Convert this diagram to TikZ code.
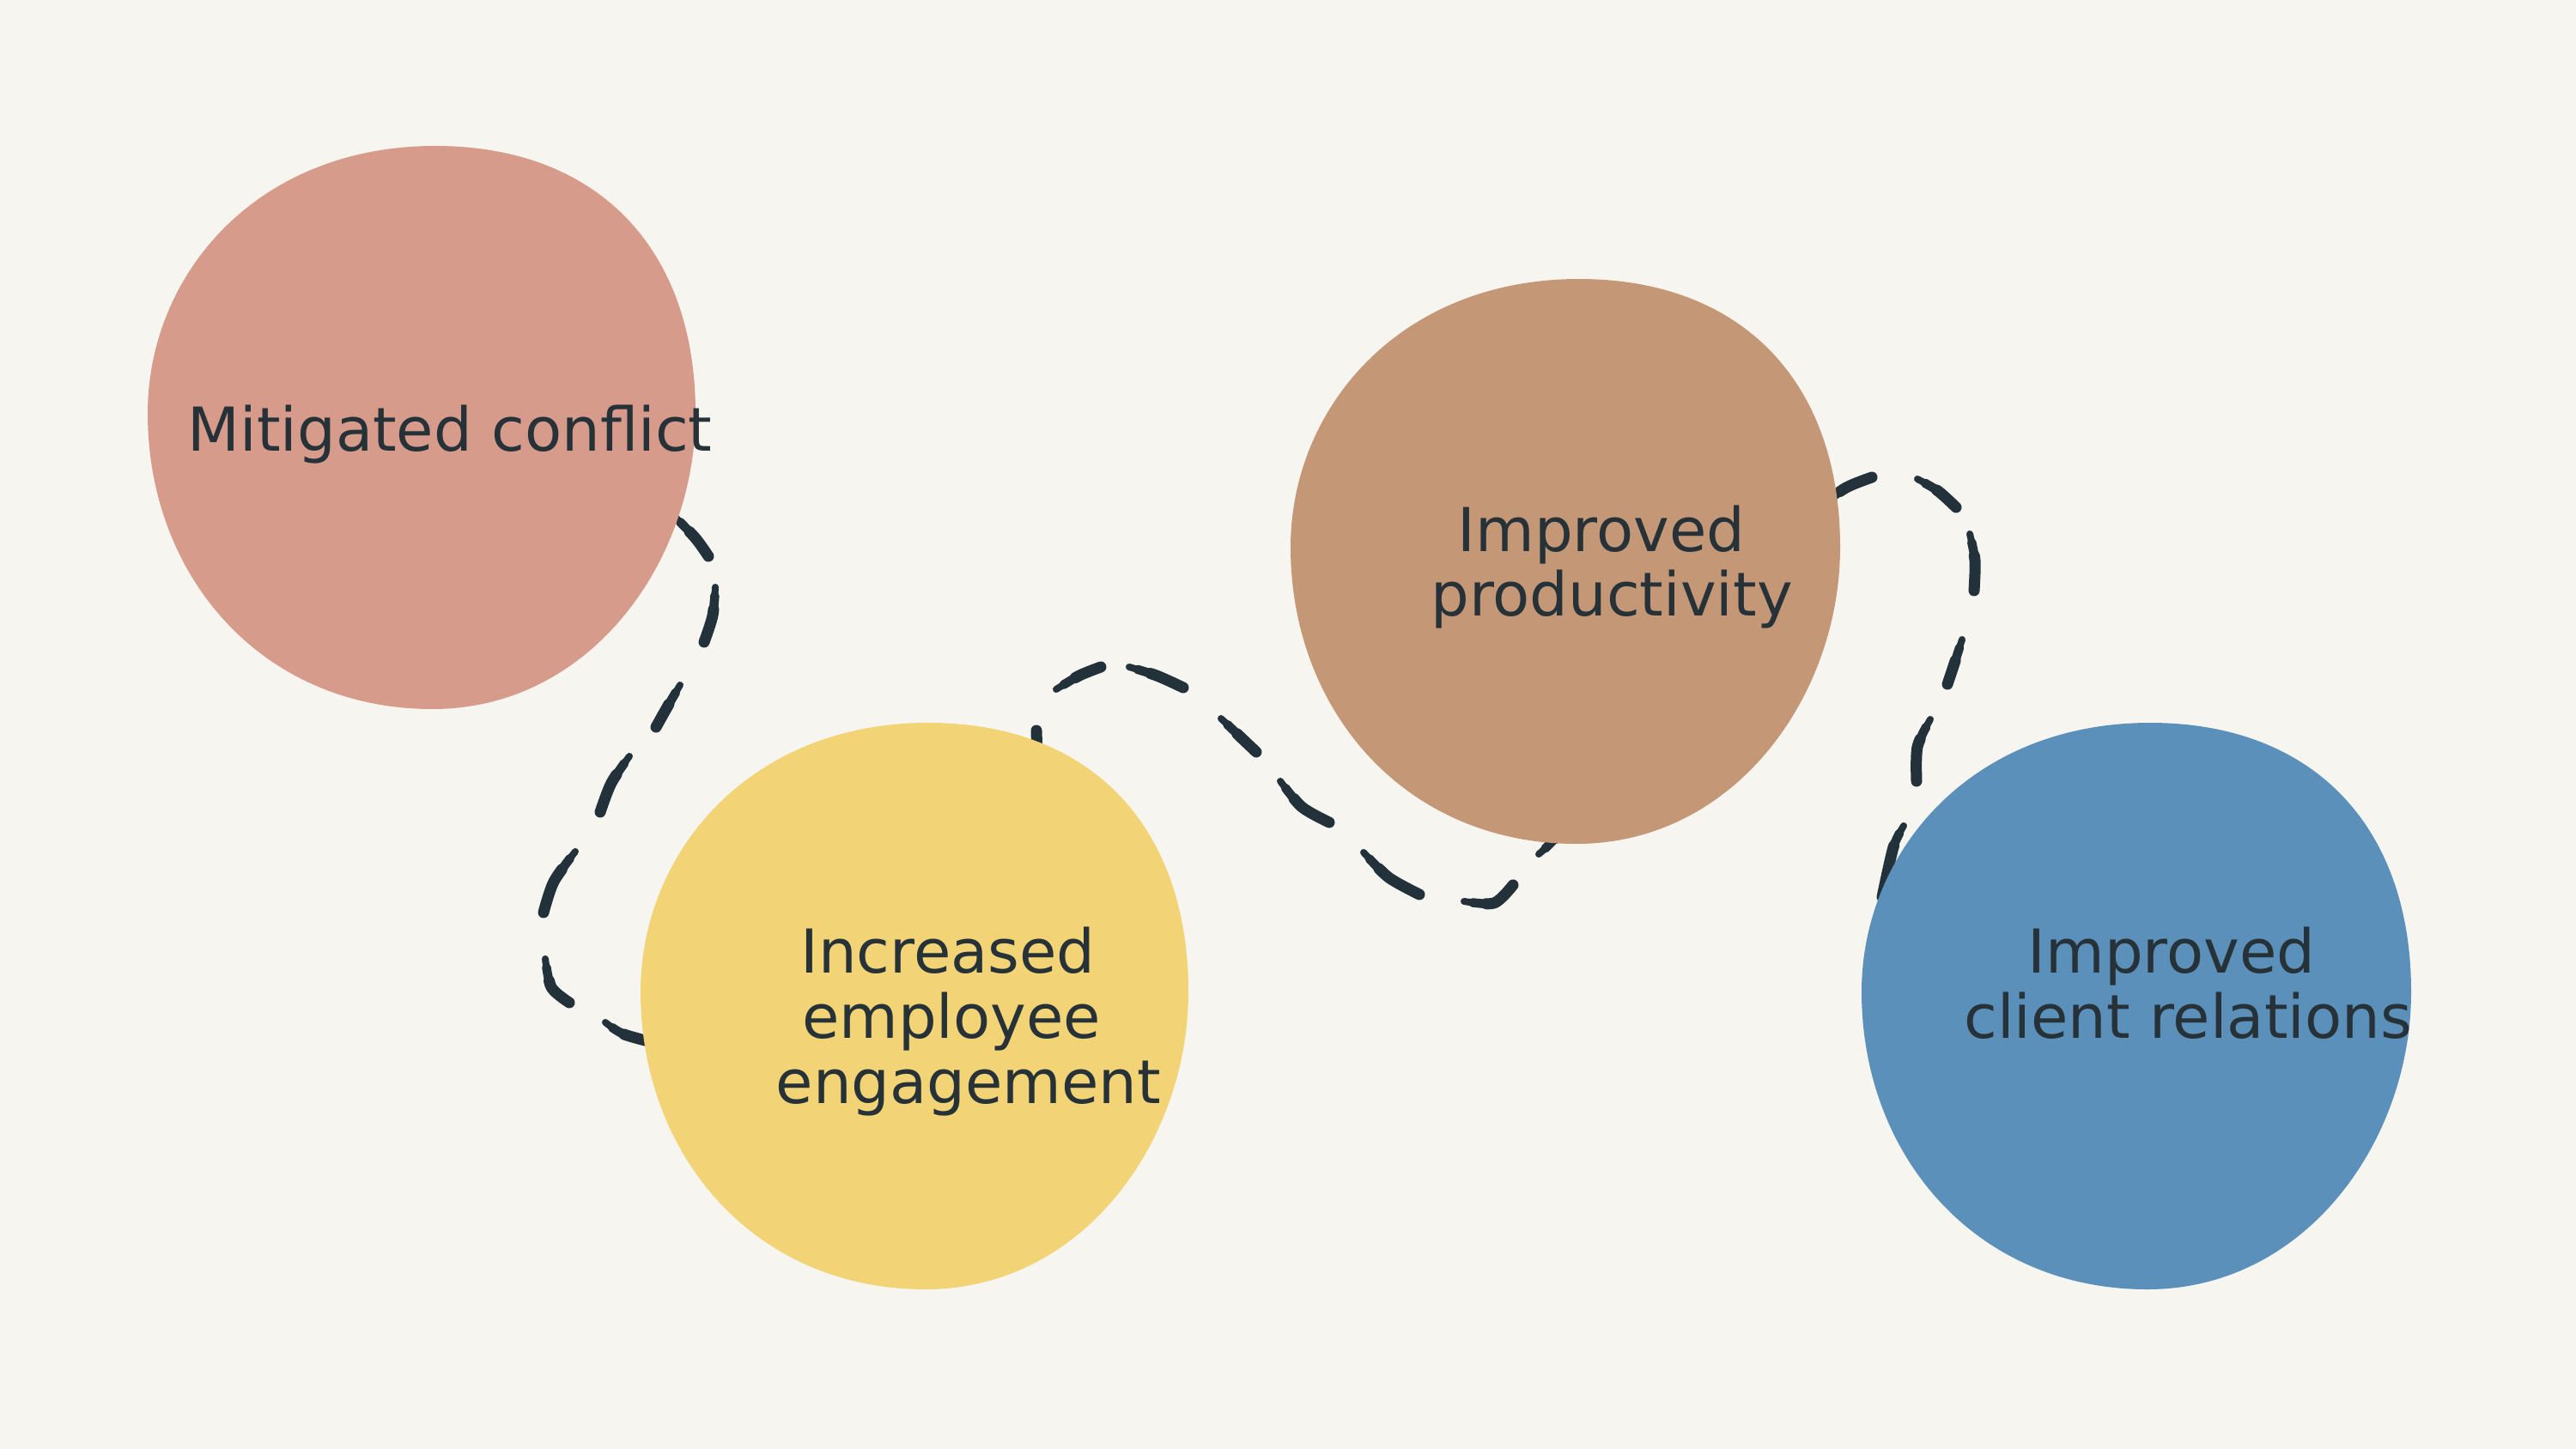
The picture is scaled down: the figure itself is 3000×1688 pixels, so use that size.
\documentclass[tikz,border=0pt]{standalone}
\usepackage{fontspec}
\setmainfont{DejaVu Sans}
\definecolor{bgc}{HTML}{F6F5F0}
\definecolor{pinkc}{HTML}{D69B8A}
\definecolor{yellowc}{HTML}{F2D477}
\definecolor{tanc}{HTML}{C49877}
\definecolor{bluec}{HTML}{5B90BA}
\definecolor{inkc}{HTML}{263238}
\definecolor{dashc}{HTML}{22313A}
\begin{document}
\begin{tikzpicture}[x=1pt,y=-1pt,
  lbl/.style={font=\fontsize{70.5pt}{76pt}\selectfont, text=inkc, inner sep=0pt, anchor=base},
  inkA/.style={draw=dashc, line width=8pt, line cap=round, line join=round},
  inkB/.style={draw=dashc, line width=10.5pt, line cap=round, line join=round, dash pattern=on 500pt off 10pt, dash phase=500pt},
  inkC/.style={draw=dashc, line width=13pt, line cap=round, line join=round, dash pattern=on 500pt off 26pt, dash phase=500pt},
  conn/.style={inkA, postaction={inkB}, postaction={inkC}},
  blobshape/.pic={\path[pic actions] (0.05,-1) .. controls (0.639,-1) and (1,-0.639) .. (1,-0.05)
     .. controls (1,0.475) and (0.616,1) .. (0.04,1)
     .. controls (-0.584,1) and (-1,0.5275) .. (-1,-0.05)
     .. controls (-1,-0.544) and (-0.601,-1) .. (0.05,-1) -- cycle;}
]
\useasboundingbox (0,0) rectangle (3000,1688);
\fill[bgc] (0,0) rectangle (3000,1688);

\coordinate (b1) at (491,498);
\coordinate (b2) at (1065,1172);
\coordinate (b3) at (1823,654);
\coordinate (b4) at (2488,1172);

% connector 1 -> 2
\draw[conn]
  plot[smooth] coordinates {(785,601) (810,627) (825,648)}
  plot[smooth] coordinates {(833,684) (830,717) (820,748)}
  plot[smooth] coordinates {(792,798) (778,822) (764,847)}
  plot[smooth] coordinates {(733,881) (712,912) (699,946)}
  plot[smooth] coordinates {(670,992) (645,1027) (633,1063)}
  plot[smooth] coordinates {(635,1117) (642,1150) (663,1168)}
  plot[smooth] coordinates {(705,1191) (727,1205) (775,1218)};

% connector 2 -> 3
\draw[conn]
  plot[smooth] coordinates {(1210,905) (1208,878) (1207,851)}
  plot[smooth] coordinates {(1230,803) (1257,787) (1282,777)}
  plot[smooth] coordinates {(1315,777) (1347,787) (1378,801)}
  plot[smooth] coordinates {(1422,837) (1443,857) (1463,876)}
  plot[smooth] coordinates {(1491,910) (1516,940) (1548,958)}
  plot[smooth] coordinates {(1588,993) (1617,1022) (1653,1042)}
  plot[smooth] coordinates {(1705,1050) (1740,1052) (1762,1031)}
  plot[smooth] coordinates {(1792,995) (1805,983) (1830,955)};

% connector 3 -> 4
\draw[conn]
  plot[smooth] coordinates {(2122,588) (2150,568) (2180,556)}
  plot[smooth] coordinates {(2233,558) (2257,572) (2278,591)}
  plot[smooth] coordinates {(2294,622) (2300,653) (2299,688)}
  plot[smooth] coordinates {(2285,745) (2277,770) (2268,797)}
  plot[smooth] coordinates {(2248,838) (2233,870) (2232,910)}
  plot[smooth] coordinates {(2217,962) (2205,987) (2192,1045)};

\pic[fill=pinkc, xscale=319, yscale=328] (p1) at (b1) {blobshape};
\pic[fill=yellowc, xscale=319, yscale=330] (p2) at (b2) {blobshape};
\pic[fill=tanc, xscale=320, yscale=329] (p3) at (b3) {blobshape};
\pic[fill=bluec, xscale=320, yscale=330] (p4) at (b4) {blobshape};

\node[lbl] (t1) at (524,525) {Mitigated conflict};
\node[lbl] (t2a) at (1104,1133) {Increased};
\node[lbl] (t2b) at (1108,1209) {employee};
\node[lbl] (t2c) at (1128,1285) {engagement};
\node[lbl] (t3a) at (1865,642) {Improved};
\node[lbl] (t3b) at (1877,717) {productivity};
\node[lbl] (t4a) at (2529,1133) {Improved};
\node[lbl] (t4b) at (2548,1209) {client relations};
\end{tikzpicture}
\end{document}
